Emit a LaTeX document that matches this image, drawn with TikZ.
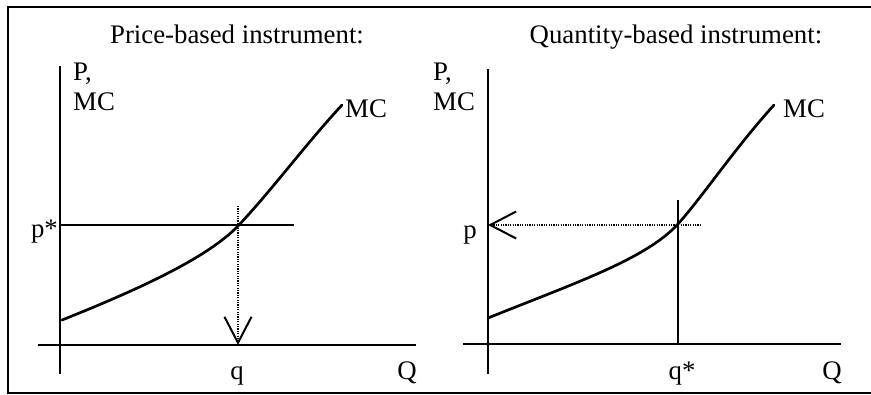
\documentclass[tikz,border=0pt]{standalone}
\usepackage{fontspec}
\setmainfont{Liberation Serif}
\usetikzlibrary{arrows.meta}
\begin{document}
\begin{tikzpicture}[x=1pt,y=-1pt,
  lbl/.style={inner sep=0pt, font=\fontsize{26.8}{30}\selectfont},
  axisline/.style={line width=2.8pt},
  curveline/.style={line width=2.7pt, line join=round, line cap=round},
  guide/.style={line width=2.7pt},
  thinguide/.style={line width=2pt},
  dots/.style={line width=1.6pt, dash pattern=on 1.2pt off 1.2pt},
  barb/.style={-{Straight Barb[length=26pt,width=27pt,line width=2pt]}}]
\useasboundingbox (0,0) rectangle (871,394);
% frame
\coordinate (fTR) at (873,7);
\coordinate (fTL) at (8,7);
\coordinate (fBL) at (8,393);
\coordinate (fBR) at (873,393);
\draw[line width=2.4pt] (fTR) -- (fTL) -- (fBL) -- (fBR);

% titles
\node[lbl, anchor=base] (t1) at (237,43) {Price-based instrument:};
\node[lbl, anchor=base] (t2) at (676,43) {Quantity-based instrument:};

% ---------- left panel ----------
\coordinate (Ly0) at (60,66);
\coordinate (Ly1) at (60,374);
\coordinate (Lx0) at (38,345);
\coordinate (Lx1) at (416,345);
\draw[axisline] (Ly0) -- (Ly1);
\draw[axisline] (Lx0) -- (Lx1);
\node[lbl, anchor=base west] (LP) at (73,80) {P,};
\node[lbl, anchor=base west] (LMC) at (73,110) {MC};
\node[lbl, anchor=base east] (Lpstar) at (58,237) {p*};
\coordinate (Lp0) at (60,225);
\coordinate (Lp1) at (294,225);
\draw[guide] (Lp0) -- (Lp1);
\coordinate (Lc0) at (62,320);
\coordinate (Lc1) at (238,226);
\coordinate (Lc2) at (342,105);
\draw[curveline] (Lc0) .. controls (150,285) and (210,255) .. (Lc1)
                       .. controls (272,190) and (305,145) .. (Lc2);
\node[lbl, anchor=base west] (LMCc) at (345,117) {MC};
\coordinate (Ld0) at (238,206);
\coordinate (Ld1) at (238,345);
\draw[dots, barb] (Ld0) -- (Ld1);
\node[lbl, anchor=base] (Lq) at (237,379) {q};
\node[lbl, anchor=base] (LQ) at (407,379) {Q};

% ---------- right panel ----------
\coordinate (Ry0) at (488,69);
\coordinate (Ry1) at (488,374);
\coordinate (Rx0) at (463,344);
\coordinate (Rx1) at (841,344);
\draw[axisline] (Ry0) -- (Ry1);
\draw[axisline] (Rx0) -- (Rx1);
\node[lbl, anchor=base west] (RP) at (433,80) {P,};
\node[lbl, anchor=base west] (RMC) at (433,110) {MC};
\node[lbl, anchor=base east] (Rp) at (477,238) {p};
\coordinate (Rc0) at (488,318);
\coordinate (Rc1) at (678,224);
\coordinate (Rc2) at (774,105);
\draw[curveline] (Rc0) .. controls (575,283) and (646,259) .. (Rc1)
                       .. controls (703,196) and (735,148) .. (Rc2);
\node[lbl, anchor=base west] (RMCc) at (783,117) {MC};
\coordinate (Rv0) at (678,200);
\coordinate (Rv1) at (678,344);
\draw[thinguide] (Rv0) -- (Rv1);
\coordinate (Rd0) at (701,225);
\coordinate (Rd1) at (488,225);
\draw[dots, barb] (Rd0) -- (Rd1);
\node[lbl, anchor=base] (Rq) at (682,379) {q*};
\node[lbl, anchor=base] (RQ) at (832,379) {Q};
\end{tikzpicture}
\end{document}
